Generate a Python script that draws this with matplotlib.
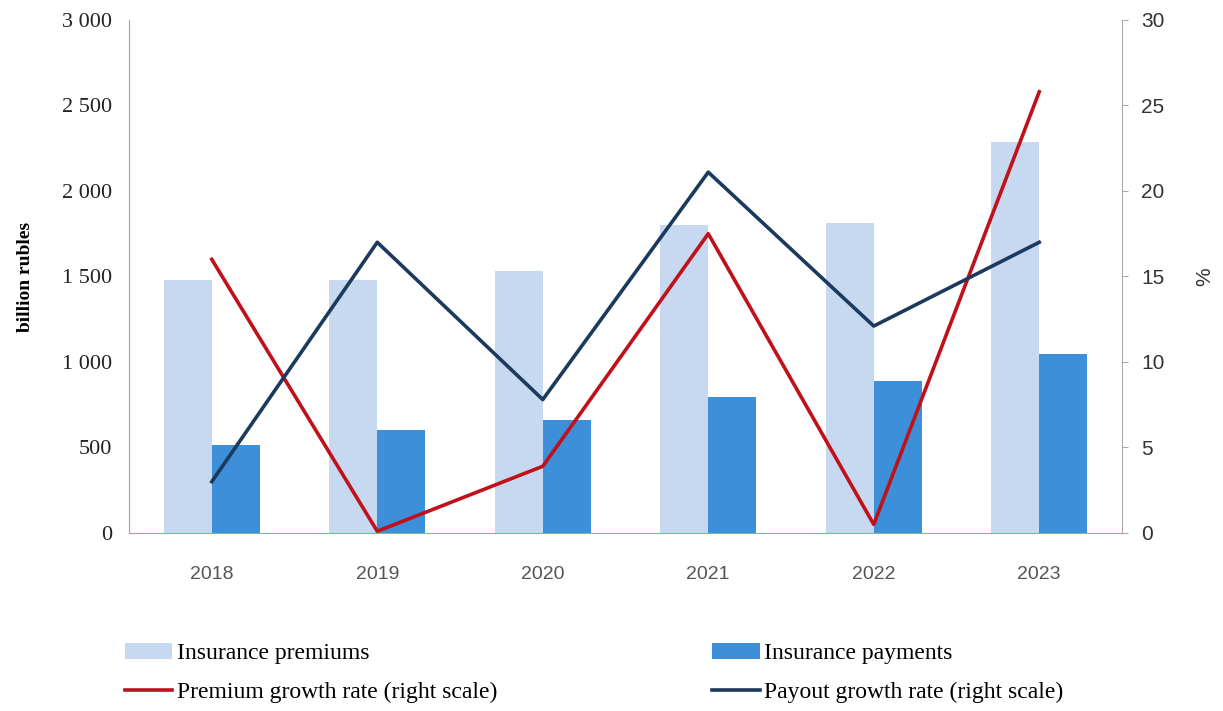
import numpy as np
import matplotlib.pyplot as plt
from matplotlib.ticker import FuncFormatter

anos = ['2018', '2019', '2020', '2021', '2022', '2023']
premios = [1479, 1480, 1532, 1801, 1811, 2285]
pagamentos = [515, 605, 660, 795, 890, 1045]
cresc_premios = [16.0, 0.1, 3.9, 17.5, 0.5, 25.8]
cresc_pagamentos = [3.0, 17.0, 7.8, 21.1, 12.1, 17.0]

cor_claro = '#c6d9f0'
cor_escuro = '#3c8fd8'
cor_vermelho = '#c0111b'
cor_azul = '#1c3a5e'

fig = plt.figure(figsize=(12.23, 7.11), dpi=100)
ax = fig.add_axes([0.1055, 0.2504, 0.8119, 0.7215])
ax2 = ax.twinx()

x = np.arange(len(anos))
w = 0.29
b1 = ax.bar(x - w / 2, premios, w, color=cor_claro, label='Insurance premiums')
b2 = ax.bar(x + w / 2, pagamentos, w, color=cor_escuro, label='Insurance payments')
l1, = ax2.plot(x, cresc_premios, color=cor_vermelho, lw=2.6, label='Premium growth rate (right scale)')
l2, = ax2.plot(x, cresc_pagamentos, color=cor_azul, lw=2.6, label='Payout growth rate (right scale)')

ax.set_xlim(-0.5, 5.5)
ax.set_ylim(0, 3000)
ax2.set_ylim(0, 30)
ax.set_yticks(range(0, 3001, 500))
ax.yaxis.set_major_formatter(FuncFormatter(lambda v, p: f'{int(v):,}'.replace(',', ' ')))
ax2.set_yticks(range(0, 31, 5))

ax.set_xticks(x)
ax.set_xticklabels(anos)
ax.tick_params(axis='x', length=0, pad=24, labelsize=14, labelcolor='#555555')
for t in ax.get_xticklabels():
    t.set_family('Liberation Sans')
ax.tick_params(axis='y', length=0, pad=12)
for t in ax.get_yticklabels():
    t.set_family('Liberation Serif')
    t.set_fontsize(16)
    t.set_color('#222222')
ax2.tick_params(axis='y', length=4, color='#aaaaaa', pad=10, labelsize=15, labelcolor='#333333')
for t in ax2.get_yticklabels():
    t.set_family('Liberation Sans')

for a in (ax, ax2):
    a.spines['top'].set_visible(False)
ax.spines['left'].set_color('#d88a96')
ax.spines['bottom'].set_color('#d88a96')
ax.spines['right'].set_visible(False)
ax2.spines['left'].set_visible(False)
ax2.spines['bottom'].set_visible(False)
ax2.spines['right'].set_color('#aaaaaa')

ax.set_ylabel('billion rubles', family='Liberation Serif', fontweight='bold', fontsize=14, labelpad=20)
ax2.set_ylabel('%', family='Liberation Sans', fontsize=15, labelpad=22, color='#333333')

fig.legend([b1, l1, b2, l2],
           ['Insurance premiums', 'Premium growth rate (right scale)',
            'Insurance payments', 'Payout growth rate (right scale)'],
           ncol=2, loc='upper left', bbox_to_anchor=(0.085, 0.126), frameon=False,
           prop={'family': 'Liberation Serif', 'size': 17}, handlelength=2.0,
           handletextpad=0.2, columnspacing=9.1, labelspacing=0.75)

fig.savefig('out.png', dpi=100)
